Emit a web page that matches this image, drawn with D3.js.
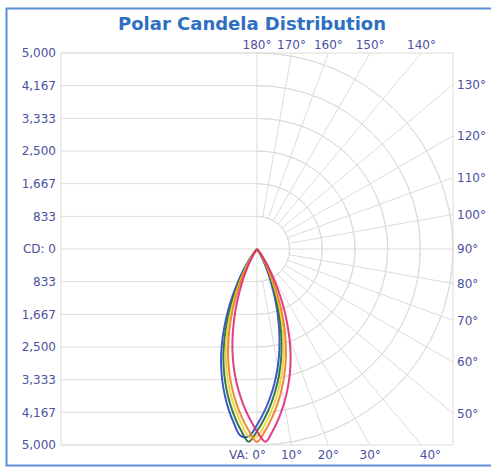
<!DOCTYPE html>
<html>
<head>
<meta charset="utf-8">
<script src="https://cdn.jsdelivr.net/npm/d3@7"></script>
<style>
  body { margin: 0; background: #fff; }
  text { font-family: "DejaVu Sans", Verdana, sans-serif; }
</style>
</head>
<body>
<script>
// candela grid values + labels (same on top and bottom half)
var cdTicks = [833, 1667, 2500, 3333, 4167, 5000];
var cdLabels = ["833", "1,667", "2,500", "3,333", "4,167", "5,000"];
var maxCd = 5000;

// vertical angle grid (0 = down, 90 = right, 180 = up)
var vaTicks = [0, 10, 20, 30, 40, 50, 60, 70, 80, 90, 100, 110, 120, 130, 140, 150, 160, 170, 180];

// measured angles, negative = left half of the plot
var angles = [-45, -42.5, -40, -37.5, -35, -32.5, -30, -27.5, -25, -22.5, -20, -17.5, -15, -12.5, -10, -7.5, -5, -2.5,
  0, 2.5, 5, 7.5, 10, 12.5, 15, 17.5, 20, 22.5, 25, 27.5, 30, 32.5, 35, 37.5, 40, 42.5, 45];

// candela per plane, read from the lobes
var blueCd    = [0, 25, 100, 225, 410, 660, 975, 1350, 1765, 2200, 2635, 3050, 3440, 3810, 4160, 4490, 4785, 4785,
  4490, 4160, 3810, 3440, 3050, 2635, 2200, 1765, 1350, 975, 660, 410, 225, 100, 25, 0, 0, 0, 0];
var greenCd   = [0, 0, 50, 150, 300, 520, 800, 1150, 1550, 1980, 2420, 2850, 3250, 3630, 3990, 4330, 4650, 4920,
  4650, 4330, 3990, 3630, 3250, 2850, 2420, 1980, 1550, 1150, 800, 520, 300, 150, 50, 0, 0, 0, 0];
var yellowCd  = [0, 0, 25, 100, 225, 410, 660, 975, 1350, 1765, 2200, 2635, 3050, 3440, 3810, 4160, 4490, 4785,
  4785, 4490, 4160, 3810, 3440, 3050, 2635, 2200, 1765, 1350, 975, 660, 410, 225, 100, 25, 0, 0, 0];
var orangeCd  = [0, 0, 0, 50, 150, 300, 520, 800, 1150, 1550, 1980, 2420, 2850, 3250, 3630, 3990, 4330, 4650,
  4920, 4650, 4330, 3990, 3630, 3250, 2850, 2420, 1980, 1550, 1150, 800, 520, 300, 150, 50, 0, 0, 0];
var magentaCd = [0, 0, 0, 0, 50, 150, 300, 520, 800, 1150, 1550, 1980, 2420, 2850, 3250, 3630, 3990, 4330,
  4650, 4920, 4650, 4330, 3990, 3630, 3250, 2850, 2420, 1980, 1550, 1150, 800, 520, 300, 150, 50, 0, 0];

var series = [
  {name: "blue", color: "#2b46c8", values: blueCd},
  {name: "green", color: "#1f6b32", values: greenCd},
  {name: "yellow", color: "#e6d627", values: yellowCd},
  {name: "orange", color: "#f07a2a", values: orangeCd},
  {name: "magenta", color: "#dc2a78", values: magentaCd}
];

var svgWidth = 491, svgHeight = 468;
var cx = 257, cy = 249, R = 196;

var svg = d3.select("body").append("svg")
  .attr("width", svgWidth)
  .attr("height", svgHeight);

// outer blue frame
svg.append("rect")
  .attr("x", 6.5).attr("y", 8.5)
  .attr("width", 500).attr("height", 457)
  .attr("fill", "none")
  .attr("stroke", "#5b8fd8")
  .attr("stroke-width", 2);

svg.append("text")
  .attr("x", 252).attr("y", 30)
  .attr("text-anchor", "middle")
  .attr("font-size", "18px")
  .attr("font-weight", "bold")
  .attr("fill", "#2f6fc2")
  .text("Polar Candela Distribution");

var r = d3.scaleLinear().domain([0, maxCd]).range([0, R]);

var g = svg.append("g").attr("transform", `translate(${cx}, ${cy})`);
var gridColor = "#dcdcdc";

// plot box
g.append("rect")
  .attr("x", -R).attr("y", -R)
  .attr("width", 2 * R).attr("height", 2 * R)
  .attr("fill", "none")
  .attr("stroke", gridColor);

// left half: horizontal lines
var hvals = [0].concat(cdTicks.map(d => d), cdTicks.map(d => -d));
g.selectAll(".hline")
  .data(hvals)
  .enter().append("line")
  .attr("x1", -R).attr("x2", d => d == 0 ? R : 0)
  .attr("y1", d => r(d)).attr("y2", d => r(d))
  .attr("stroke", gridColor);

// vertical center line
g.append("line")
  .attr("x1", 0).attr("x2", 0).attr("y1", -R).attr("y2", R)
  .attr("stroke", gridColor);

// right half: arcs
var arc = d3.arc().startAngle(0).endAngle(Math.PI);
g.selectAll(".ring")
  .data(cdTicks)
  .enter().append("path")
  .attr("d", d => arc({innerRadius: r(d), outerRadius: r(d)}))
  .attr("fill", "none")
  .attr("stroke", gridColor);

// where a ray at vertical angle a leaves the box
function edge(a) {
  var t = a * Math.PI / 180;
  var sx = Math.sin(t), sy = Math.cos(t);
  var len = Math.min(Math.abs(sx) > 1e-9 ? R / Math.abs(sx) : Infinity,
                     Math.abs(sy) > 1e-9 ? R / Math.abs(sy) : Infinity);
  return {x: sx * len, y: sy * len, sx: sx, sy: sy};
}

g.selectAll(".ray")
  .data(vaTicks.filter(a => a > 0 && a < 180 && a != 90))
  .enter().append("line")
  .attr("x1", a => edge(a).sx * r(cdTicks[0]))
  .attr("y1", a => edge(a).sy * r(cdTicks[0]))
  .attr("x2", a => edge(a).x)
  .attr("y2", a => edge(a).y)
  .attr("stroke", gridColor);

// lobes
var line = d3.lineRadial()
  .angle((d, i) => Math.PI - angles[i] * Math.PI / 180)
  .radius(d => r(d))
  .curve(d3.curveCatmullRom);

g.selectAll(".lobe")
  .data(series)
  .enter().append("path")
  .attr("d", s => line(s.values))
  .attr("fill", "none")
  .attr("stroke", s => s.color)
  .attr("stroke-width", 2)
  .attr("stroke-opacity", 0.9);

// labels
var labelColor = "#4a519e";
var leftLabels = [{v: 0, t: "CD: 0"}];
cdTicks.forEach(function(d, i) {
  leftLabels.push({v: -d, t: cdLabels[i]});
  leftLabels.push({v: d, t: cdLabels[i]});
});
g.selectAll(".cdlab")
  .data(leftLabels)
  .enter().append("text")
  .attr("x", -R - 5)
  .attr("y", d => r(d.v))
  .attr("dy", "0.35em")
  .attr("text-anchor", "end")
  .attr("font-size", "12px")
  .attr("fill", labelColor)
  .text(d => d.t);

g.selectAll(".valab")
  .data(vaTicks)
  .enter().append("text")
  .attr("font-size", "12px")
  .attr("fill", labelColor)
  .each(function(a) {
    var e = edge(a), t = d3.select(this);
    if (a <= 40) {
      t.attr("x", a == 0 ? 9 : e.x + (a == 40 ? 9 : 0)).attr("y", R + 14)
        .attr("text-anchor", a == 0 ? "end" : "middle")
        .text(a == 0 ? "VA: 0\u00b0" : a + "\u00b0");
    } else if (a >= 140) {
      t.attr("x", e.x).attr("y", -R - 4)
        .attr("text-anchor", "middle")
        .text(a + "\u00b0");
    } else {
      t.attr("x", R + 4).attr("y", e.y).attr("dy", "0.35em")
        .attr("text-anchor", "start")
        .text(a + "\u00b0");
    }
  });
</script>
</body>
</html>
